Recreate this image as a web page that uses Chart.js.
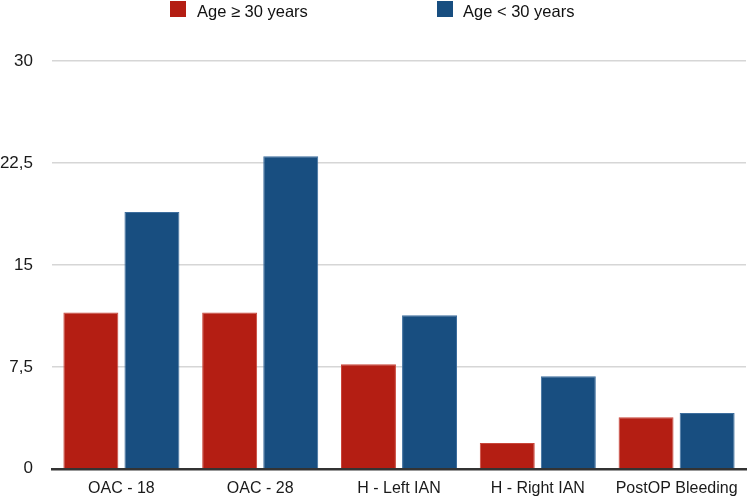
<!DOCTYPE html>
<html>
<head>
<meta charset="utf-8">
<script src="https://cdn.jsdelivr.net/npm/chart.js@4/dist/chart.umd.min.js"></script>
<style>
  html, body { margin: 0; padding: 0; background: #fff; }
  #wrap { position: relative; width: 749px; height: 498px; }
  canvas { display: block; }
  .box { position: absolute; top: 1px; width: 16px; height: 16px; }
  .lbl { position: absolute; top: 3px; font: 16.5px/1 "Liberation Sans", Arial, sans-serif; color: #111; white-space: nowrap; }
</style>
</head>
<body>
<div id="wrap">
  <canvas id="chart" width="749" height="498"></canvas>
  <div id="legend"></div>
</div>
<script>
// ============ Data ============
const categories = ["OAC - 18", "OAC - 28", "H - Left IAN", "H - Right IAN", "PostOP Bleeding"];
const olderValues = [11.5, 11.5, 7.7, 1.9, 3.8];
const youngerValues = [18.9, 23.0, 11.3, 6.8, 4.1];
const seriesNames = ["Age \u2265 30 years", "Age < 30 years"];
const yTicks = [0, 7.5, 15, 22.5, 30];

const RED = "#b41e13";
const BLUE = "#184e80";
const FONT = "'Liberation Sans', Arial, sans-serif";

// ============ Legend (html) ============
const boxX = [170, 437];
const textX = [197, 463];
document.getElementById("legend").innerHTML = seriesNames.map((name, i) =>
  `<span class="box" style="left:${boxX[i]}px;background:${i ? BLUE : RED}"></span>` +
  `<span class="lbl" style="left:${textX[i]}px">${name.replace("<", "&lt;")}</span>`
).join("");

// ============ Chart ============
new Chart(document.getElementById("chart").getContext("2d"), {
  type: "bar",
  data: {
    labels: categories,
    datasets: [
      { label: seriesNames[0], data: olderValues, backgroundColor: RED, borderColor: "#c9463a", borderWidth: 1 },
      { label: seriesNames[1], data: youngerValues, backgroundColor: BLUE, borderColor: "#3d6e9e", borderWidth: 1 }
    ]
  },
  options: {
    responsive: false,
    animation: false,
    layout: { padding: { top: 61, right: 3, left: 0, bottom: 0 } },
    datasets: { bar: { categoryPercentage: 0.88, barPercentage: 0.9 } },
    plugins: { legend: { display: false }, tooltip: { enabled: false } },
    scales: {
      x: {
        grid: { display: false, drawTicks: false },
        border: { color: "#333", width: 2.5 },
        ticks: { color: "#1a1a1a", padding: 10, font: { family: FONT, size: 16 }, maxRotation: 0, autoSkip: false },
        afterFit: s => { s.height = 29; }
      },
      y: {
        min: 0, max: 30,
        afterBuildTicks: s => { s.ticks = yTicks.map(v => ({ value: v })); },
        grid: {
          drawTicks: false,
          color: c => c.tick && c.tick.value === 0 ? "rgba(0,0,0,0)" : "#d6d6d6",
          lineWidth: 1.5
        },
        border: { display: false },
        ticks: {
          color: "#1a1a1a", padding: 19, font: { family: FONT, size: 17 },
          callback: v => String(v).replace(".", ",")
        },
        afterFit: s => { s.width = 52; }
      }
    }
  }
});
</script>
</body>
</html>
